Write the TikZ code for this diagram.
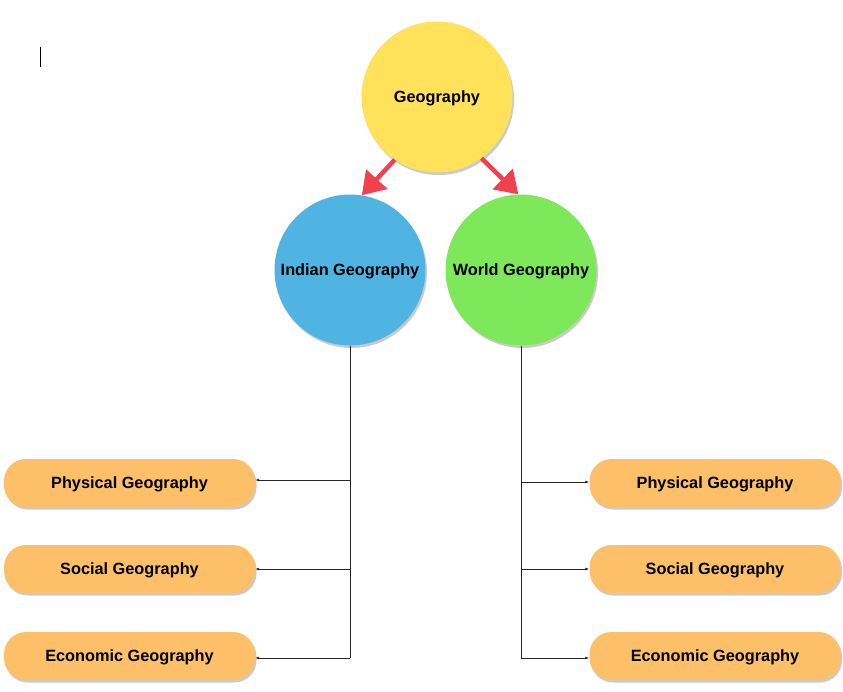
\documentclass[tikz,border=0pt]{standalone}
\usepackage{fontspec}
\setmainfont{Liberation Sans}
\usetikzlibrary{arrows.meta,shadows}
\definecolor{geoyellow}{HTML}{FFE15A}
\definecolor{indblue}{HTML}{4FB4E2}
\definecolor{wldgreen}{HTML}{7DE85A}
\definecolor{boxorange}{HTML}{FDBF68}
\definecolor{arrred}{HTML}{F2404E}
\tikzset{
  shd/.style={drop shadow={shadow xshift=1.5pt,shadow yshift=-2.5pt,opacity=0.35,fill=black!60}},
  lbl/.style={font=\bfseries\fontsize{16.3}{19}\selectfont,text height=11.5pt,text depth=1.5pt},
  bigcircle/.style={circle,minimum size=151pt,inner sep=0pt,shd,lbl},
  topic/.style={rounded corners=22pt,fill=boxorange,minimum width=251pt,minimum height=48pt,inner sep=0pt,shd,lbl},
  redarrow/.style={draw=arrred,line width=4.5pt,-{Triangle[length=22pt,width=28pt]}},
  conn/.style={draw=black!85,line width=0.8pt,-{Latex[length=4pt,width=3pt]}},
  trunk/.style={draw=black!85,line width=0.8pt}
}
\begin{document}
\begin{tikzpicture}[x=1pt,y=-1pt]
\useasboundingbox (0,0) rectangle (843,691);
\draw[line width=1.2pt] (40.5,47) -- (40.5,67);
\node[bigcircle,fill=geoyellow] (geo) at (437,97) {Geography};
\node[bigcircle,fill=indblue] (ind) at (350,270) {Indian Geography};
\node[bigcircle,fill=wldgreen] (wld) at (521,270) {World Geography};
\draw[redarrow] (geo.236) -- (ind.81);
\draw[redarrow] (geo.306) -- (wld.92);
% left boxes
\node[topic] (lp) at (129.5,483) {Physical Geography};
\node[topic] (ls) at (129.5,569) {Social Geography};
\node[topic] (le) at (129.5,656) {Economic Geography};
% right boxes
\node[topic] (rp) at (715,483) {Physical Geography};
\node[topic] (rs) at (715,569) {Social Geography};
\node[topic] (re) at (715,656) {Economic Geography};
% trunks
\coordinate (lb) at (350,658);
\coordinate (rb) at (521,658);
\draw[trunk] (ind.south) -- (lb);
\draw[trunk] (wld.south) -- (rb);
\draw[conn] (350,480) -- (lp.east |- 0,480);
\draw[conn] (350,569) -- (ls.east |- 0,569);
\draw[conn] (lb) -- (le.east |- lb);
\draw[conn] (521,482) -- (rp.west |- 0,482);
\draw[conn] (521,569) -- (rs.west |- 0,569);
\draw[conn] (rb) -- (re.west |- rb);
\end{tikzpicture}
\end{document}
